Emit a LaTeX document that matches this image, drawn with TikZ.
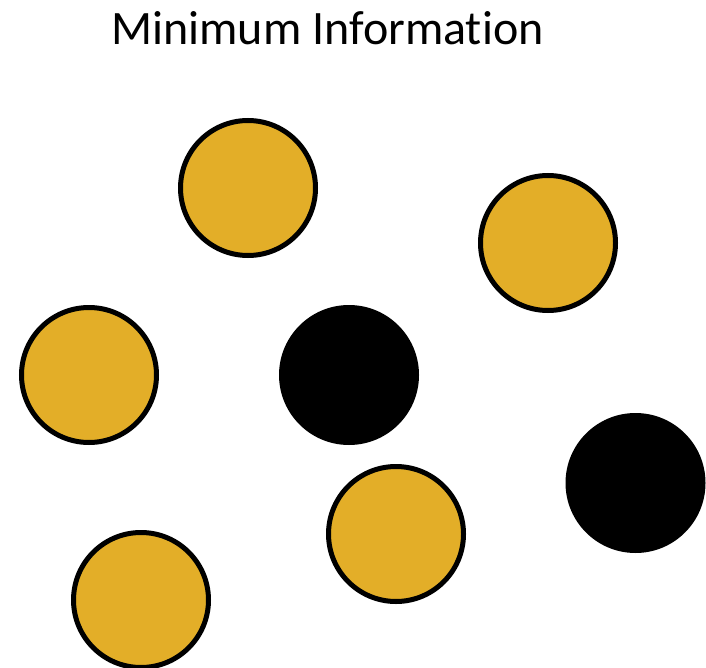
\documentclass[tikz,border=0pt]{standalone}
\usepackage{fontspec}
\setmainfont[Ligatures={NoCommon}]{Carlito}
\definecolor{gold}{HTML}{E3AE28}
\begin{document}
\begin{tikzpicture}[x=1pt,y=-1pt,
  goldball/.style={circle,draw=black,line width=5pt,fill=gold,minimum size=135pt,inner sep=0pt},
  blackball/.style={circle,fill=black,minimum size=140pt,inner sep=0pt}]
\useasboundingbox (0,0) rectangle (706,668);
\node[anchor=base,inner sep=0pt,font=\fontsize{48}{52}\selectfont] (title) at (327.5,45) {Minimum Information};
\node[goldball] (g1) at (248,188) {};
\node[goldball] (g2) at (548,243) {};
\node[goldball] (g3) at (89,375) {};
\node[blackball] (b1) at (349,375) {};
\node[blackball] (b2) at (635.5,483) {};
\node[goldball] (g4) at (396,534) {};
\node[goldball] (g5) at (141,600) {};
\end{tikzpicture}
\end{document}
